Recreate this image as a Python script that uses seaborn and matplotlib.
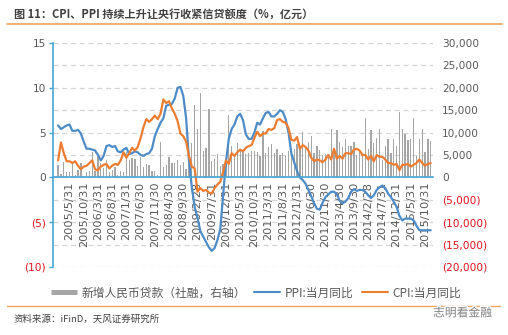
import numpy as np
import pandas as pd
import matplotlib
matplotlib.use("Agg")
import matplotlib.pyplot as plt
import seaborn as sns
from matplotlib.lines import Line2D
import matplotlib.patheffects as pe

# ---------------- data ----------------
months = pd.date_range("2005-01-31", periods=132, freq="ME")

cpi = [1.9, 3.9, 2.7, 1.8, 1.8, 1.6, 1.8, 1.3, 0.9, 1.2, 1.3, 1.6,
       1.9, 0.9, 0.8, 1.2, 1.4, 1.5, 1.0, 1.3, 1.5, 1.4, 1.9, 2.8,
       2.2, 2.7, 3.3, 3.0, 3.4, 4.4, 5.6, 6.5, 6.2, 6.5, 6.9, 6.5,
       7.1, 8.7, 8.3, 8.5, 7.7, 7.1, 6.3, 4.9, 4.6, 4.0, 2.4, 1.2,
       1.0, -1.6, -1.2, -1.5, -1.4, -1.7, -1.8, -1.2, -0.8, -0.5, 0.6, 1.9,
       1.5, 2.7, 2.4, 2.8, 3.1, 2.9, 3.3, 3.5, 3.6, 4.4, 5.1, 4.6,
       4.9, 4.9, 5.4, 5.3, 5.5, 6.4, 6.5, 6.2, 6.1, 5.5, 4.2, 4.1,
       4.5, 3.2, 3.6, 3.4, 3.0, 2.2, 1.8, 2.0, 1.9, 1.7, 2.0, 2.5,
       2.0, 3.2, 2.1, 2.4, 2.1, 2.7, 2.7, 2.6, 3.1, 3.2, 3.0, 2.5,
       2.5, 2.0, 2.4, 1.8, 2.5, 2.3, 2.3, 2.0, 1.6, 1.6, 1.4, 1.5,
       0.8, 1.4, 1.4, 1.5, 1.2, 1.4, 1.6, 2.0, 1.6, 1.3, 1.5, 1.6]

ppi = [5.8, 5.4, 5.6, 5.8, 5.9, 5.2, 5.2, 5.3, 4.9, 4.0, 3.2, 3.2,
       3.1, 3.0, 2.5, 1.9, 2.4, 3.5, 3.6, 3.4, 3.5, 2.9, 2.8, 3.1,
       3.3, 2.6, 2.7, 2.9, 2.8, 2.5, 2.4, 2.6, 2.7, 3.2, 4.6, 5.4,
       6.1, 6.6, 8.0, 8.1, 8.2, 8.8, 10.0, 10.1, 9.1, 6.6, 2.0, -1.1,
       -3.3, -4.5, -6.0, -6.6, -7.2, -7.8, -8.2, -7.9, -7.0, -5.8, -2.1, 1.7,
       4.3, 5.4, 5.9, 6.8, 7.1, 6.4, 4.8, 4.3, 4.3, 5.0, 6.1, 5.9,
       6.6, 7.2, 7.3, 6.8, 6.8, 7.1, 7.5, 7.3, 6.5, 5.0, 2.7, 1.7,
       0.7, 0.0, -0.3, -0.7, -1.4, -2.1, -2.9, -3.5, -3.6, -2.8, -2.2, -1.9,
       -1.6, -1.6, -1.9, -2.6, -2.9, -2.7, -2.3, -1.6, -1.3, -1.5, -1.4, -1.4,
       -1.6, -2.0, -2.3, -2.0, -1.4, -1.1, -0.9, -1.2, -1.8, -2.2, -2.7, -3.3,
       -4.3, -4.8, -4.6, -4.6, -4.6, -4.8, -5.4, -5.9, -5.9, -5.9, -5.9, -5.9]

loans = [2700, 800, 3400, 1200, 1300, 3500, 600, 1600, 3200, 400, 1300, 1500,
         5600, 1500, 4900, 3200, 2000, 3900, 1200, 1700, 2300, 500, 1500, 1100,
         5700, 3800, 4400, 4000, 2500, 4500, 2400, 3000, 2800, 1400, 1400, 500,
         8000, 2400, 2800, 4600, 3200, 3300, 3900, 2700, 3500, 1800, 4800, 7700,
         16200, 10700, 18900, 5900, 6600, 15300, 3600, 4100, 5200, 2500, 2900, 3800,
         13900, 7000, 5100, 7700, 6400, 6000, 5300, 5500, 6000, 5900, 5600, 4800,
         10400, 5400, 6800, 7400, 5500, 6300, 4900, 5500, 4700, 5900, 5600, 6400,
         7400, 7100, 10100, 6800, 7900, 9200, 5400, 7000, 6200, 5100, 5200, 4500,
         10700, 6200, 10600, 7900, 6700, 8600, 7000, 7100, 7900, 5100, 6200, 4800,
         13200, 6400, 10500, 7700, 8700, 10800, 3900, 7000, 8600, 5500, 8500, 7000,
         14700, 10900, 9700, 8300, 8600, 13200, 4800, 8600, 10900, 5600, 8600, 8200]

x_tick_labels = ["2005/5/31", "2005/10/31", "2006/3/31", "2006/8/31", "2007/1/31",
                 "2007/6/30", "2007/11/30", "2008/4/30", "2008/9/30", "2009/2/28",
                 "2009/7/31", "2009/12/31", "2010/5/31", "2010/10/31", "2011/3/31",
                 "2011/8/31", "2012/1/31", "2012/6/30", "2012/11/30", "2013/4/30",
                 "2013/9/30", "2014/2/28", "2014/7/31", "2014/12/31", "2015/5/31",
                 "2015/10/31"]
left_ticks = [-10, -5, 0, 5, 10, 15]
left_labels = ["(10)", "(5)", "0", "5", "10", "15"]
right_ticks = [-20000, -15000, -10000, -5000, 0, 5000, 10000, 15000, 20000, 25000, 30000]
right_labels = ["(20,000)", "(15,000)", "(10,000)", "(5,000)", "0", "5,000", "10,000",
                "15,000", "20,000", "25,000", "30,000"]

title = "图 11：CPI、PPI 持续上升让央行收紧信贷额度（%，亿元）"
legend_labels = ["新增人民币贷款（社融，右轴）", "PPI:当月同比", "CPI:当月同比"]
source = "资料来源：iFinD，天风证券研究所"
watermark = "志明看金融"

# ---------------- style ----------------
sns.set_theme(style="white")
plt.rcParams["font.family"] = ["DejaVu Sans", "Noto Sans CJK SC"]
CJK = ["Noto Sans CJK SC", "DejaVu Sans"]

BLUE = "#4E8CC8"
ORANGE = "#ED7D31"
GRAY = "#A6A6A6"
AXIS = "#45A5D6"
TXT = "#595959"
RED = "#E0101B"
LINEOR = "#EEA35C"

W, H = 508, 335
fig = plt.figure(figsize=(W / 100, H / 100), dpi=100)
ax = fig.add_axes([53 / W, 1 - 267 / H, 380 / W, 224 / H])
ax2 = ax.twinx()

df = pd.DataFrame({"idx": np.arange(len(months)), "cpi": cpi, "ppi": ppi, "loans": loans})

sns.barplot(data=df, x="idx", y="loans", ax=ax2, color=GRAY, width=0.45,
            saturation=1, native_scale=True, errorbar=None, linewidth=0)
sns.lineplot(data=df, x="idx", y="ppi", ax=ax, color=BLUE, lw=1.6)
sns.lineplot(data=df, x="idx", y="cpi", ax=ax, color=ORANGE, lw=1.6)

ax.set_zorder(ax2.get_zorder() + 1)
ax.patch.set_visible(False)

ax.set_ylim(-10, 15)
ax2.set_ylim(-20000, 30000)
ax.set_xlim(-1.8, 131.8)

for s in ["top", "right"]:
    ax.spines[s].set_visible(False)
for s in ax2.spines.values():
    s.set_visible(False)
ax.spines["left"].set_color(AXIS)
ax.spines["left"].set_linewidth(1.2)
ax.spines["bottom"].set_color(AXIS)
ax.spines["bottom"].set_linewidth(1.2)
ax.spines["bottom"].set_position(("data", 0))

# y axes
ax.set_yticks(left_ticks, labels=left_labels)
ax.tick_params(axis="y", which="major", direction="out", length=3, width=1,
               color=AXIS, labelsize=7.6, labelcolor=TXT, pad=2)
for t, v in zip(ax.get_yticklabels(), left_ticks):
    t.set_color(RED if v < 0 else TXT)

ax2.set_yticks(right_ticks, labels=right_labels)
ax2.tick_params(axis="y", length=0, labelsize=7.6, pad=6.5)
for t, v in zip(ax2.get_yticklabels(), right_ticks):
    t.set_color(RED if v < 0 else TXT)

ax2.set_axisbelow(True)
ax2.grid(axis="y", color="#D4D4D4", lw=0.9, ls=(0, (4, 3)))
ax2.grid(axis="x", visible=False)
ax.grid(False)

# x axis
label_pos = np.arange(4, 132, 5)[:len(x_tick_labels)]
ax.set_xticks(label_pos, labels=x_tick_labels, rotation=90)
ax.set_xticks(np.arange(0, 132, 5 / 3), minor=True)
ax.tick_params(axis="x", which="major", length=0, labelsize=8.2, labelcolor=TXT, pad=3)
ax.tick_params(axis="x", which="minor", direction="out", length=2.5, width=1, color=AXIS)
for t in ax.get_xticklabels():
    t.set_va("top")
    t.set_ha("center")

ax.set_xlabel("")
ax.set_ylabel("")
ax2.set_xlabel("")
ax2.set_ylabel("")

# title & decorations
fig.text(14 / W, 1 - 14 / H, title, fontsize=8, fontweight="bold", color="#404040",
         family=CJK, va="center", ha="left")
fig.add_artist(Line2D([7 / W, 502 / W], [1 - 24 / H] * 2, color=LINEOR, lw=1.2))
fig.add_artist(Line2D([7 / W, 500 / W], [1 - 306 / H] * 2, color=LINEOR, lw=1.0))

handles = [Line2D([], [], color=GRAY, lw=3.6, solid_capstyle="butt"),
           Line2D([], [], color=BLUE, lw=1.5),
           Line2D([], [], color=ORANGE, lw=1.5)]
fig.legend(handles, legend_labels, loc="center", bbox_to_anchor=(256 / W, 1 - 293 / H),
           ncol=3, frameon=False, prop={"family": CJK, "size": 8.5},
           handlelength=2.2, handletextpad=0.4, columnspacing=0.7,
           labelcolor=TXT, borderpad=0, borderaxespad=0)

fig.text(14 / W, 1 - 319 / H, source, fontsize=6.8, color="#404040",
         family=CJK, va="center", ha="left")
fig.text(433 / W, 1 - 313 / H, watermark, fontsize=8.5, color="#808080",
         family=CJK, va="center", ha="left",
         path_effects=[pe.withStroke(linewidth=2, foreground="white")])

fig.savefig("out.png", dpi=100)
